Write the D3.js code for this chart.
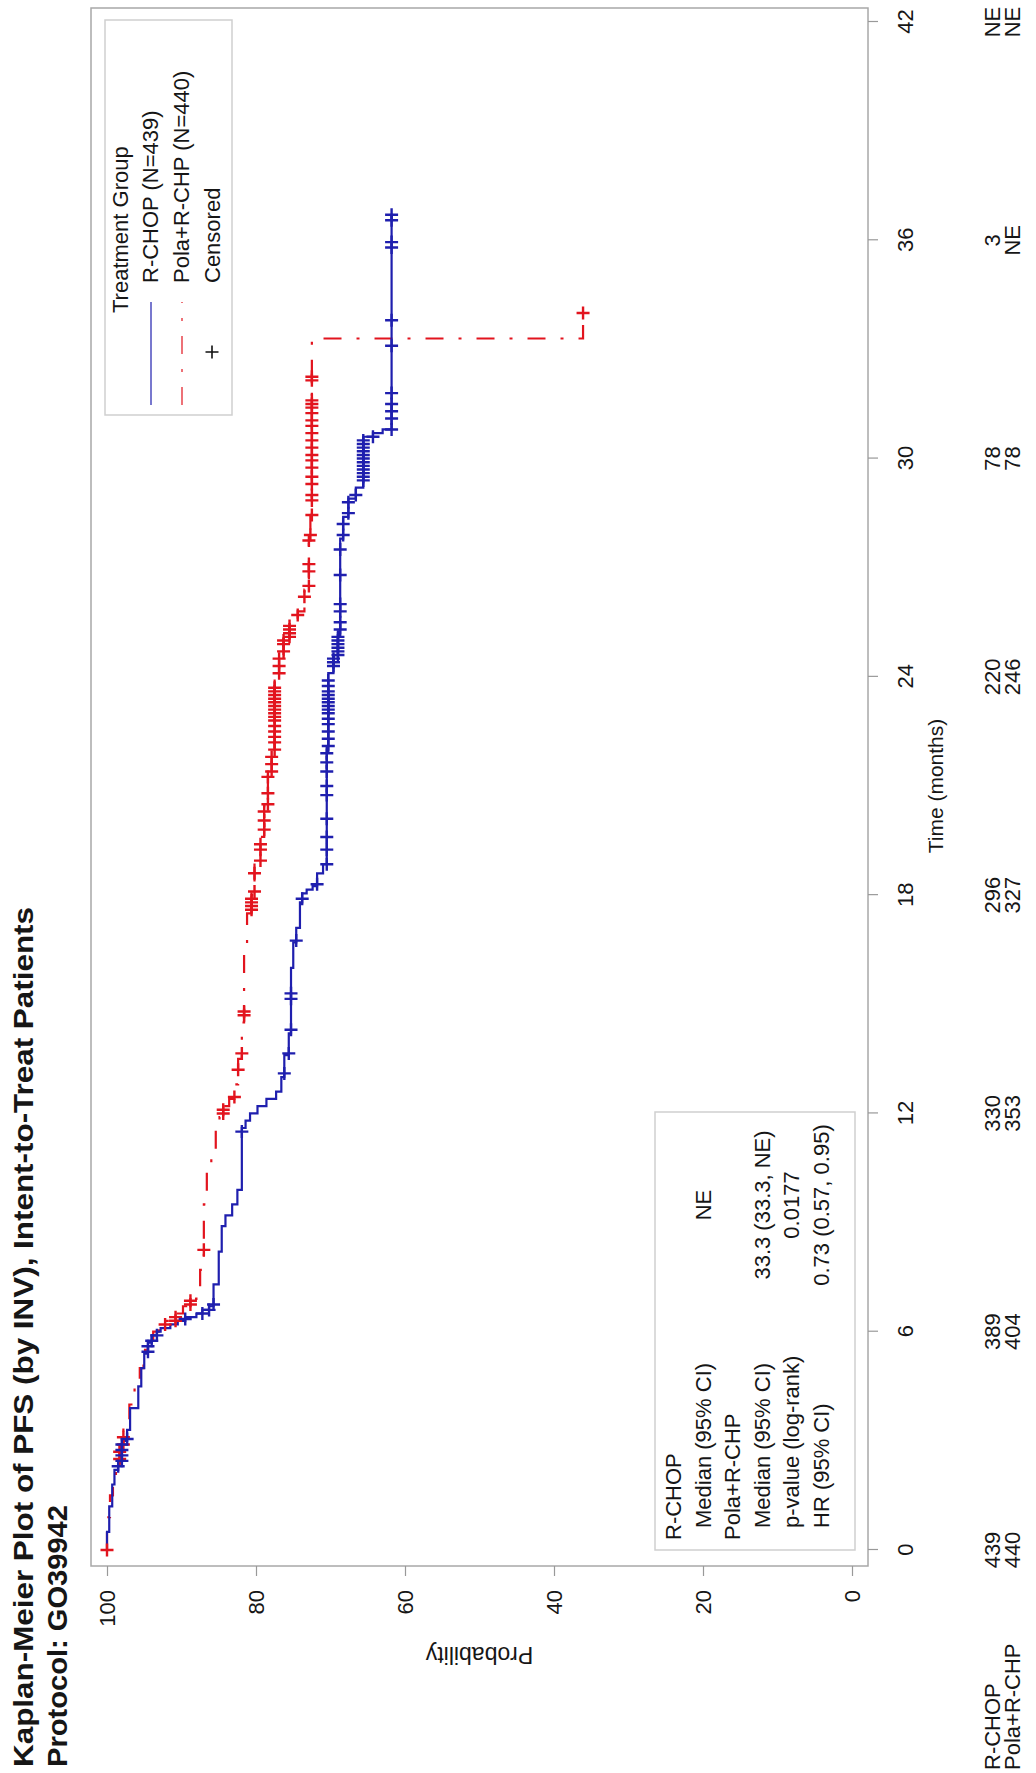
<!DOCTYPE html>
<html>
<head>
<meta charset="utf-8">
<script src="https://cdn.jsdelivr.net/npm/d3@7"></script>
<style>
body { margin: 0; background: #fff; }
svg { display: block; }
text { font-family: "Liberation Sans", Arial, sans-serif; fill: #161616; }
</style>
</head>
<body>
<div id="chart"></div>
<script>
// Kaplan-Meier PFS, drawn landscape and turned a quarter turn like the scanned page

var timeTicks = [0, 6, 12, 18, 24, 30, 36, 42];
var probTicks = [0, 20, 40, 60, 80, 100];

// step points (time in months, survival %)
var rchopTime = [0, 0.5, 1.2, 1.8, 2.2, 2.4, 3.0, 3.3, 3.9, 4.5, 5.0, 5.4, 5.7, 5.9, 6.0, 6.1, 6.2, 6.3, 6.4, 6.5,
	6.6, 6.7, 7.3, 8.2, 8.9, 9.2, 9.5, 9.9, 11.6, 11.8, 12.0, 12.2, 12.4, 12.6, 13.0, 13.6, 14.2, 16.0, 16.7, 17.1,
	17.8, 18.05, 18.15, 18.25, 18.6, 18.85, 22.0, 24.1, 24.6, 25.2, 27.8, 28.4, 28.9, 29.2, 30.6, 30.7, 30.8, 36.7];
var rchopSurv = [100, 99.7, 99.3, 99.0, 98.5, 98.0, 97.3, 96.9, 95.8, 95.4, 95.0, 94.5, 94.0, 93.3, 92.8, 91.5, 90.5, 89.5, 88.0, 87.2,
	86.3, 85.7, 85.0, 84.6, 84.1, 83.2, 82.5, 81.9, 81.4, 80.8, 79.8, 78.6, 77.3, 76.6, 76.2, 75.6, 75.3, 75.0, 74.6, 74.1,
	73.8, 73.2, 72.4, 71.8, 71.0, 70.5, 70.3, 69.6, 69.0, 68.7, 68.3, 67.6, 66.6, 65.6, 64.3, 63.0, 61.8, 61.8];

var polaTime = [0, 0.9, 1.5, 2.0, 2.5, 2.9, 3.5, 4.0, 4.6, 5.0, 5.5, 5.8, 6.0, 6.15, 6.3, 6.5, 6.7, 6.9, 7.2, 7.7,
	9.5, 10.6, 11.0, 11.6, 11.9, 12.2, 12.4, 12.8, 13.5, 14.5, 16.4, 17.5, 18.0, 18.9, 19.6, 20.5, 21.4, 21.9, 24.0, 24.6,
	25.1, 25.5, 25.8, 26.4, 27.8, 28.4, 33.3, 34.0];
var polaSurv = [100, 99.6, 99.2, 98.8, 98.3, 97.8, 97.0, 96.3, 95.6, 95.1, 94.4, 93.8, 93.0, 92.2, 90.8, 89.8, 88.8, 88.0, 87.5, 87.0,
	86.6, 86.0, 85.4, 84.9, 84.4, 83.6, 82.9, 82.4, 81.9, 81.6, 81.2, 80.6, 80.2, 79.4, 78.9, 78.4, 77.9, 77.5, 76.9, 76.3,
	75.5, 74.4, 73.5, 72.9, 72.7, 72.5, 36.1, 36.1];

// censored times
var rchopCensor = [2.3, 2.45, 2.6, 2.75, 2.9, 3.05, 5.45, 5.6, 5.75, 5.9, 6.35, 6.5, 6.6, 6.75, 11.5, 13.1, 13.65, 14.3,
	15.15, 15.3, 16.75, 17.9, 18.3, 18.85, 19.25, 19.6, 20.1, 20.75, 21.0, 21.4, 21.65, 21.9, 22.1, 22.3, 22.5, 22.7,
	22.85, 23.0, 23.1, 23.2, 23.3, 23.4, 23.5, 23.6, 23.75, 23.9, 24.3, 24.4, 24.5, 24.6, 24.7, 24.8, 24.9, 25.0, 25.1,
	25.3, 25.5, 25.8, 26.0, 26.8, 27.5, 27.9, 28.2, 28.5, 28.8, 29.0, 29.4, 29.5, 29.6, 29.7, 29.8, 29.9, 30.0, 30.1,
	30.2, 30.3, 30.4, 30.5, 30.6, 30.8, 31.1, 31.3, 31.5, 31.8, 33.1, 33.8, 35.8, 35.95, 36.55, 36.7];
var polaCensor = [0, 2.5, 2.7, 2.9, 3.1, 6.2, 6.3, 6.4, 6.75, 6.85, 8.25, 12.0, 12.1, 12.45, 13.2, 13.65, 14.7, 14.8,
	17.6, 17.7, 17.8, 17.9, 18.1, 18.6, 18.95, 19.25, 19.4, 19.8, 20.05, 20.3, 20.5, 20.8, 21.25, 21.4, 21.6, 21.8,
	22.0, 22.2, 22.35, 22.5, 22.65, 22.8, 22.9, 23.0, 23.1, 23.2, 23.3, 23.4, 23.5, 23.6, 23.7, 24.1, 24.3, 24.5,
	24.7, 24.9, 25.0, 25.1, 25.2, 25.3, 25.4, 25.7, 26.2, 26.5, 26.9, 27.1, 27.75, 27.9, 28.45, 28.85, 29.0, 29.3,
	29.5, 29.75, 29.95, 30.1, 30.3, 30.5, 30.7, 30.9, 31.05, 31.25, 31.4, 31.5, 31.6, 32.15, 32.25, 34.0];

var rchopAtRisk = ["439", "389", "330", "296", "220", "78", "3", "NE"];
var polaAtRisk = ["440", "404", "353", "327", "246", "78", "NE", "NE"];
var riskRows = ["R-CHOP", "Pola+R-CHP"];

var legendTitle = "Treatment Group";
var legendLabels = ["R-CHOP (N=439)", "Pola+R-CHP (N=440)", "Censored"];

var statLabels = ["R-CHOP", "Median (95% CI)", "Pola+R-CHP", "Median (95% CI)", "p-value (log-rank)", "HR (95% CI)"];
var statIndent = [0, 1, 0, 1, 1, 1];
var statValues = ["", "NE", "", "33.3 (33.3, NE)", "0.0177", "0.73 (0.57, 0.95)"];

var blue = "#1f1fae";
var red = "#e2141e";
var redDash = "18,15,3,15";

var W = 1773, H = 1036;

var svg = d3.select("#chart").append("svg")
	.attr("width", H)
	.attr("height", W);
svg.append("rect").attr("width", H).attr("height", W).attr("fill", "#fff");

// whole page is turned: landscape (x', y') -> screen (y', W - x')
var g = svg.append("g").attr("transform", "translate(0," + W + ") rotate(-90)");

var x = d3.scaleLinear().domain([0, 42]).range([223, 1751]);
var y = d3.scaleLinear().domain([0, 100]).range([852, 107]);

// titles
g.append("text").attr("x", 6).attr("y", 33)
	.attr("font-weight", "bold").attr("font-size", 27)
	.attr("textLength", 860).attr("lengthAdjust", "spacingAndGlyphs")
	.text("Kaplan-Meier Plot of PFS (by INV), Intent-to-Treat Patients");
g.append("text").attr("x", 6).attr("y", 67)
	.attr("font-weight", "bold").attr("font-size", 27)
	.attr("textLength", 262).attr("lengthAdjust", "spacingAndGlyphs")
	.text("Protocol: GO39942");

// frame
g.append("rect")
	.attr("x", 207).attr("y", 91)
	.attr("width", 1765 - 207).attr("height", 868 - 91)
	.attr("fill", "none").attr("stroke", "#a8a8a8").attr("stroke-width", 1.5);

// axes
var yAxis = g.append("g").attr("transform", "translate(207,0)")
	.call(d3.axisLeft(y).tickValues(probTicks).tickSize(10).tickPadding(14));
var xAxis = g.append("g").attr("transform", "translate(0,868)")
	.call(d3.axisBottom(x).tickValues(timeTicks).tickSize(10).tickPadding(19));
[yAxis, xAxis].forEach(function (a) {
	a.select(".domain").remove();
	a.attr("font-family", null).attr("font-size", 22);
	a.selectAll(".tick line").attr("stroke", "#999").attr("stroke-width", 1.2);
	a.selectAll(".tick text").attr("fill", "#161616");
});

g.append("text")
	.attr("transform", "translate(126," + y(50) + ") rotate(-90)")
	.attr("text-anchor", "middle").attr("font-size", 23)
	.text("Probability");

g.append("text")
	.attr("x", x(21)).attr("y", 943)
	.attr("text-anchor", "middle").attr("font-size", 21)
	.text("Time (months)");

// at-risk table
riskRows.forEach(function (r, i) {
	g.append("text").attr("x", 3).attr("y", 1000 + i * 20)
		.attr("font-size", 22).text(r);
});
g.selectAll(".riskA").data(rchopAtRisk).enter().append("text")
	.attr("x", function (d, i) { return x(timeTicks[i]); })
	.attr("y", 1000).attr("text-anchor", "middle").attr("font-size", 22)
	.text(function (d) { return d; });
g.selectAll(".riskB").data(polaAtRisk).enter().append("text")
	.attr("x", function (d, i) { return x(timeTicks[i]); })
	.attr("y", 1020).attr("text-anchor", "middle").attr("font-size", 22)
	.text(function (d) { return d; });

// curves
var line = d3.line()
	.x(function (d) { return x(d[0]); })
	.y(function (d) { return y(d[1]); })
	.curve(d3.curveStepAfter);

function pairs(t, s) { return t.map(function (v, i) { return [v, s[i]]; }); }
function survAt(t, times, surv) {
	var i = d3.bisectRight(times, t) - 1;
	return surv[Math.max(i, 0)];
}

g.append("path").attr("d", line(pairs(polaTime, polaSurv)))
	.attr("fill", "none").attr("stroke", red).attr("stroke-width", 2.2)
	.attr("stroke-dasharray", redDash);
g.append("path").attr("d", line(pairs(rchopTime, rchopSurv)))
	.attr("fill", "none").attr("stroke", blue).attr("stroke-width", 2.2);

var plus = "M-6.5,0H6.5M0,-6.5V6.5";
g.selectAll(".cP").data(polaCensor).enter().append("path")
	.attr("d", plus)
	.attr("transform", function (d) { return "translate(" + x(d) + "," + y(survAt(d, polaTime, polaSurv)) + ")"; })
	.attr("stroke", red).attr("stroke-width", 2.4).attr("fill", "none");
g.selectAll(".cR").data(rchopCensor).enter().append("path")
	.attr("d", plus)
	.attr("transform", function (d) { return "translate(" + x(d) + "," + y(survAt(d, rchopTime, rchopSurv)) + ")"; })
	.attr("stroke", blue).attr("stroke-width", 2.4).attr("fill", "none");

// legend
var leg = g.append("g");
leg.append("rect").attr("x", 1358).attr("y", 105).attr("width", 1753 - 1358).attr("height", 232 - 105)
	.attr("fill", "#fff").attr("stroke", "#cfcfcf").attr("stroke-width", 1.5);
leg.append("text").attr("x", 1460).attr("y", 128).attr("font-size", 22).text(legendTitle);
leg.append("line").attr("x1", 1368).attr("x2", 1471).attr("y1", 151).attr("y2", 151)
	.attr("stroke", blue).attr("stroke-width", 1.6).attr("opacity", 0.75);
leg.append("line").attr("x1", 1368).attr("x2", 1471).attr("y1", 182).attr("y2", 182)
	.attr("stroke", red).attr("stroke-width", 1.6).attr("opacity", 0.75)
	.attr("stroke-dasharray", redDash);
leg.append("path").attr("d", plus).attr("transform", "translate(1421,212)")
	.attr("stroke", "#111").attr("stroke-width", 1.6);
legendLabels.forEach(function (l, i) {
	leg.append("text").attr("x", 1490).attr("y", 158 + i * 31).attr("font-size", 22).text(l);
});

// statistics box
var st = g.append("g");
st.append("rect").attr("x", 223).attr("y", 655).attr("width", 661 - 223).attr("height", 855 - 655)
	.attr("fill", "#fff").attr("stroke", "#cfcfcf").attr("stroke-width", 1.5);
statLabels.forEach(function (l, i) {
	st.append("text").attr("x", 233 + statIndent[i] * 12).attr("y", 681 + i * 29.5)
		.attr("font-size", 22).text(l);
	if (statValues[i]) {
		st.append("text").attr("x", 568).attr("y", 681 + i * 29.5)
			.attr("text-anchor", "middle").attr("font-size", 22).text(statValues[i]);
	}
});
</script>
</body>
</html>
